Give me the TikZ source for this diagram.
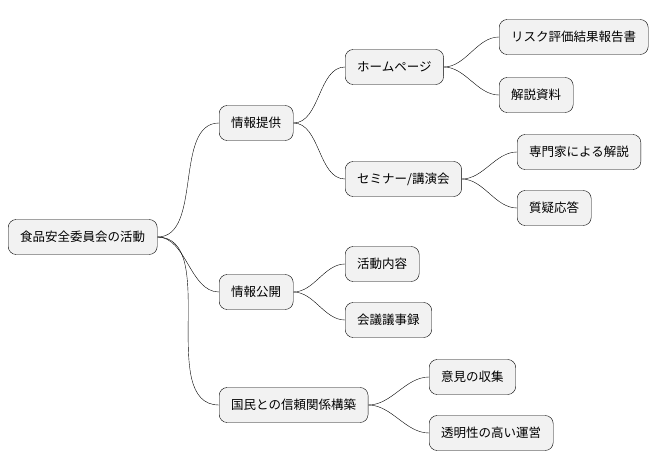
\documentclass[tikz,border=0pt]{standalone}
\usepackage{fontspec}
\newfontfamily\cjk{Noto Sans CJK JP}
\begin{document}
\begin{tikzpicture}[
    x=1pt, y=-1pt,
    topic/.style={
        rectangle,
        draw,
        fill=gray!10,
        anchor=west,
        minimum height=35pt,
        inner xsep=12pt,
        font=\cjk\fontsize{12.5}{15}\selectfont,
        rounded corners=8pt
    },
    link/.style={out=0, in=180, looseness=0.9}
]
\useasboundingbox (0,0) rectangle (670,471);

% Nodes
\node[topic] (root) at (8,237) {食品安全委員会の活動};
\node[topic] (provide) at (219,123) {情報提供};
\node[topic] (open) at (219,292) {情報公開};
\node[topic] (trust) at (219,405) {国民との信頼関係構築};
\node[topic] (home) at (345,67) {ホームページ};
\node[topic] (seminar) at (345,179) {セミナー/講演会};
\node[topic] (report) at (499,37) {リスク評価結果報告書};
\node[topic] (material) at (499,95) {解説資料};
\node[topic] (expert) at (517,152) {専門家による解説};
\node[topic] (qa) at (517,208) {質疑応答};
\node[topic] (activity) at (345,264) {活動内容};
\node[topic] (minutes) at (345,320) {会議議事録};
\node[topic] (opinion) at (429,377) {意見の収集};
\node[topic] (transparent) at (429,433) {透明性の高い運営};

% Edges
\foreach \a/\b in {root/provide, root/open, root/trust,
    provide/home, provide/seminar, home/report, home/material,
    seminar/expert, seminar/qa, open/activity, open/minutes,
    trust/opinion, trust/transparent}
    \draw (\a.east) to[link] (\b.west);
\end{tikzpicture}
\end{document}
